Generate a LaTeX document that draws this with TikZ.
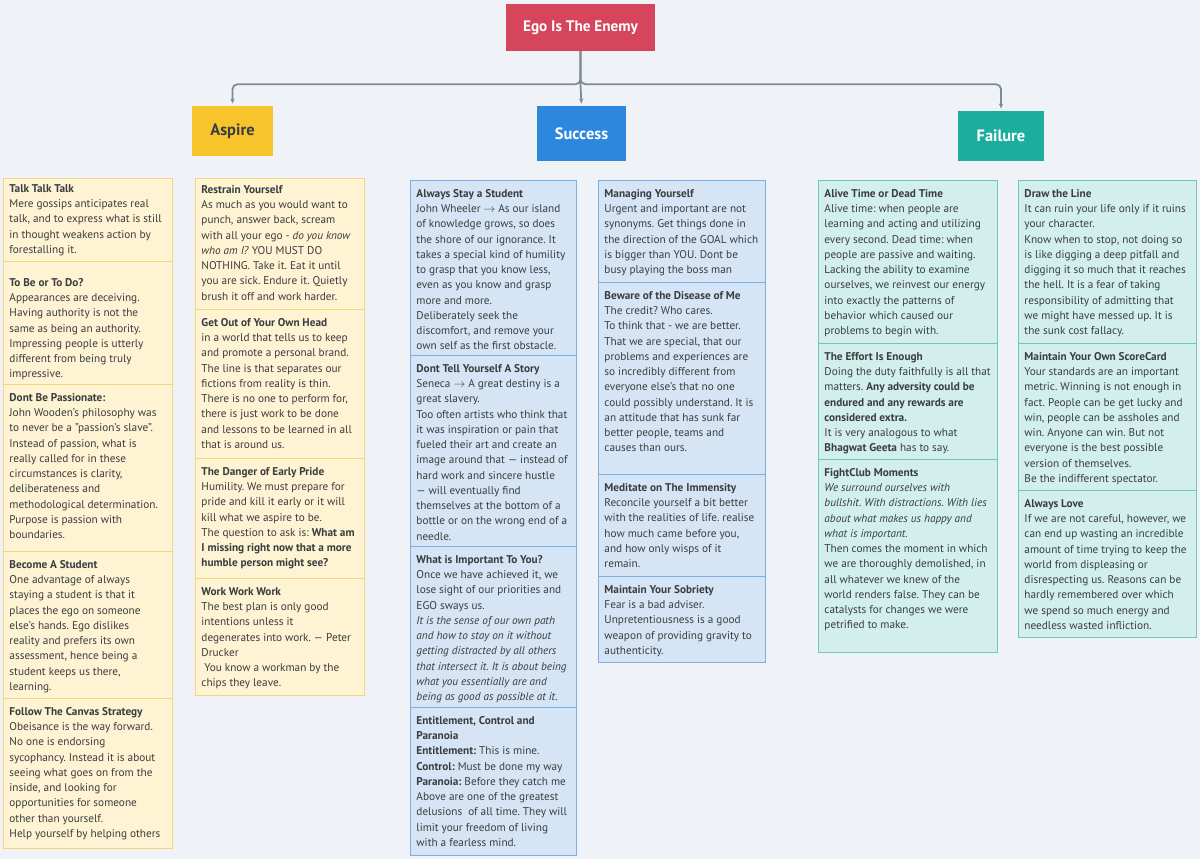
\documentclass[tikz,border=0pt]{standalone}
\usepackage{fontspec}
\setmainfont{PT Sans}
\usetikzlibrary{arrows.meta}
\frenchspacing

\definecolor{canvas}{HTML}{EFF3F7}
\definecolor{ink}{HTML}{3A3D40}
\definecolor{wire}{HTML}{7D8B98}
\definecolor{egored}{HTML}{D5455B}
\definecolor{aspireyel}{HTML}{F8C42B}
\definecolor{successblu}{HTML}{2D87DC}
\definecolor{failteal}{HTML}{1BAE9E}
\definecolor{yelfill}{HTML}{FEF3D2}
\definecolor{yeledge}{HTML}{F5D67A}
\definecolor{blufill}{HTML}{D5E5F5}
\definecolor{bluedge}{HTML}{7CB0E2}
\definecolor{tealfill}{HTML}{D2EFEC}
\definecolor{tealedge}{HTML}{6EC8BC}

% one pixel of the 1200 x 859 sheet
\newlength\px
\setlength\px{0.03cm}
\newcommand\toarrow{\ensuremath{\rightarrow}}

% \card[first baseline]{name}{style}{x}{y}{width}{height}{text}
\newcommand\card[8][17]{%
  \node[#3] (#2) at (#4,#5) {\parbox[t][#7\px][t]{#6\px}{%
      \frenchspacing\leftskip=6\px \rightskip=-30pt plus 1fil \parindent=0pt
      \rule{0pt}{#1\px}#8}};}

\begin{document}
\begin{tikzpicture}[x=1\px, y=-1\px,
    head/.style={font=\fontsize{14}{16}\selectfont\bfseries, inner sep=0pt},
    link/.style={draw=wire, line width=1.5pt, -{Stealth[length=1.5mm, width=1.3mm]}, shorten >=2pt},
    card/.style={anchor=north west, inner sep=0pt, line width=0.8pt, text=ink,
      font=\fontsize{9.6}{13}\selectfont},
    yelcard/.style={card, draw=yeledge, fill=yelfill},
    blucard/.style={card, draw=bluedge, fill=blufill},
    tealcard/.style={card, draw=tealedge, fill=tealfill}]

  % Background
  \fill[canvas] (0,0) rectangle (1200,859);

  % Root and branches
  \node[head, font=\fontsize{13}{15}\selectfont\bfseries, fill=egored, text=white, minimum width=149\px, minimum height=47\px] (ego) at (580.5,27.5) {Ego Is The Enemy};
  \node[head, fill=aspireyel, text=ink, minimum width=81\px, minimum height=50\px] (aspire) at (232.5,131) {Aspire};
  \node[head, fill=successblu, text=white, minimum width=89\px, minimum height=55\px] (success) at (581.5,133.5) {Success};
  \node[head, fill=failteal, text=white, minimum width=86\px, minimum height=50\px] (failure) at (1001,136) {Failure};

  \draw[link] (ego.south) -- ++(0,33) coordinate (hub) -- (success.north);
  \draw[link, rounded corners=1.5mm] (ego.south) -- (hub) -| (aspire.north);
  \draw[link, rounded corners=1.5mm] (ego.south) -- (hub) -| (failure.north);

  % Aspire, first column
  \card[14]{talk}{yelcard}{3}{178}{169}{83}{\textbf{Talk Talk Talk}\\
    Mere gossips anticipates real\\
    talk, and to express what is still\\
    in thought weakens action by\\
    forestalling it.}
  \card[25]{tobe}{yelcard}{3}{261}{169}{123}{\textbf{To Be or To Do?}\\
    Appearances are deceiving.\\
    Having authority is not the\\
    same as being an authority.\\
    Impressing people is utterly\\
    different from being truly\\
    impressive.}
  \card{passion}{yelcard}{3}{384}{169}{167}{\textbf{Dont Be Passionate:}\\
    John Wooden's philosophy was\\
    to never be a "passion's slave".\\
    Instead of passion, what is\\
    really called for in these\\
    circumstances is clarity,\\
    deliberateness and\\
    methodological determination.\\
    Purpose is passion with\\
    boundaries.}
  \card{student}{yelcard}{3}{551}{169}{147}{\textbf{Become A Student}\\
    One advantage of always\\
    staying a student is that it\\
    places the ego on someone\\
    else's hands. Ego dislikes\\
    reality and prefers its own\\
    assessment, hence being a\\
    student keeps us there,\\
    learning.}
  \card{canvasway}{yelcard}{3}{698}{169}{150}{\textbf{Follow The Canvas Strategy}\\
    Obeisance is the way forward.\\
    No one is endorsing\\
    sycophancy. Instead it is about\\
    seeing what goes on from the\\
    inside, and looking for\\
    opportunities for someone\\
    other than yourself.\\
    Help yourself by helping others}

  % Aspire, second column
  \card[15]{restrain}{yelcard}{195}{178}{169}{131}{\textbf{Restrain Yourself}\\
    As much as you would want to\\
    punch, answer back, scream\\
    with all your ego - \textit{do you know}\\
    \textit{who am I?} YOU MUST DO\\
    NOTHING. Take it. Eat it until\\
    you are sick. Endure it. Quietly\\
    brush it off and work harder.}
  \card{ownhead}{yelcard}{195}{309}{169}{149}{\textbf{Get Out of Your Own Head}\\
    in a world that tells us to keep\\
    and promote a personal brand.\\
    The line is that separates our\\
    fictions from reality is thin.\\
    There is no one to perform for,\\
    there is just work to be done\\
    and lessons to be learned in all\\
    that is around us.}
  \card{pride}{yelcard}{195}{458}{169}{120}{\textbf{The Danger of Early Pride}\\
    Humility. We must prepare for\\
    pride and kill it early or it will\\
    kill what we aspire to be.\\
    The question to ask is: \textbf{What am}\\
    \textbf{I missing right now that a more}\\
    \textbf{humble person might see?}}
  \card{work}{yelcard}{195}{578}{169}{117}{\textbf{Work Work Work}\\
    The best plan is only good\\
    intentions unless it\\
    degenerates into work. --- Peter\\
    Drucker\\
    \hspace*{3\px}You know a workman by the\\
    chips they leave.}

  % Success, first column
  \card{stay}{blucard}{410}{180}{166}{175}{\textbf{Always Stay a Student}\\
    John Wheeler \toarrow{} As our island\\
    of knowledge grows, so does\\
    the shore of our ignorance. It\\
    takes a special kind of humility\\
    to grasp that you know less,\\
    even as you know and grasp\\
    more and more.\\
    Deliberately seek the\\
    discomfort, and remove your\\
    own self as the first obstacle.}
  \card{story}{blucard}{410}{355}{166}{191}{\textbf{Dont Tell Yourself A Story}\\
    Seneca \toarrow{} A great destiny is a\\
    great slavery.\\
    Too often artists who think that\\
    it was inspiration or pain that\\
    fueled their art and create an\\
    image around that --- instead of\\
    hard work and sincere hustle\\
    --- will eventually find\\
    themselves at the bottom of a\\
    bottle or on the wrong end of a\\
    needle.}
  \card{important}{blucard}{410}{546}{166}{161}{\textbf{What is Important To You?}\\
    Once we have achieved it, we\\
    lose sight of our priorities and\\
    EGO sways us.\\
    \textit{It is the sense of our own path}\\
    \textit{and how to stay on it without}\\
    \textit{getting distracted by all others}\\
    \textit{that intersect it. It is about being}\\
    \textit{what you essentially are and}\\
    \textit{being as good as possible at it.}}
  \card{entitle}{blucard}{410}{707}{166}{148}{\textbf{Entitlement, Control and}\\
    \textbf{Paranoia}\\
    \textbf{Entitlement:} This is mine.\\
    \textbf{Control:} Must be done my way\\
    \textbf{Paranoia:} Before they catch me\\
    Above are one of the greatest\\
    delusions\ \ of all time. They will\\
    limit your freedom of living\\
    with a fearless mind.}

  % Success, second column
  \card{managing}{blucard}{598}{180}{167}{102}{\textbf{Managing Yourself}\\
    Urgent and important are not\\
    synonyms. Get things done in\\
    the direction of the GOAL which\\
    is bigger than YOU. Dont be\\
    busy playing the boss man}
  \card{diseaseme}{blucard}{598}{282}{167}{192}{\textbf{Beware of the Disease of Me}\\
    The credit? Who cares.\\
    To think that - we are better.\\
    That we are special, that our\\
    problems and experiences are\\
    so incredibly different from\\
    everyone else's that no one\\
    could possibly understand. It is\\
    an attitude that has sunk far\\
    better people, teams and\\
    causes than ours.}
  \card{immensity}{blucard}{598}{474}{167}{102}{\textbf{Meditate on The Immensity}\\
    Reconcile yourself a bit better\\
    with the realities of life. realise\\
    how much came before you,\\
    and how only wisps of it\\
    remain.}
  \card{sobriety}{blucard}{598}{576}{167}{86}{\textbf{Maintain Your Sobriety}\\
    Fear is a bad adviser.\\
    Unpretentiousness is a good\\
    weapon of providing gravity to\\
    authenticity.}

  % Failure, first column
  \card{alive}{tealcard}{818}{180}{179}{163}{\textbf{Alive Time or Dead Time}\\
    Alive time: when people are\\
    learning and acting and utilizing\\
    every second. Dead time: when\\
    people are passive and waiting.\\
    Lacking the ability to examine\\
    ourselves, we reinvest our energy\\
    into exactly the patterns of\\
    behavior which caused our\\
    problems to begin with.}
  \card{effort}{tealcard}{818}{343}{179}{116}{\textbf{The Effort Is Enough}\\
    Doing the duty faithfully is all that\\
    matters. \textbf{Any adversity could be}\\
    \textbf{endured and any rewards are}\\
    \textbf{considered extra.}\\
    It is very analogous to what\\
    \textbf{Bhagwat Geeta} has to say.}
  \card{fightclub}{tealcard}{818}{459}{179}{193}{\textbf{FightClub Moments}\\
    \textit{We surround ourselves with}\\
    \textit{bullshit. With distractions. With lies}\\
    \textit{about what makes us happy and}\\
    \textit{what is important.}\\
    Then comes the moment in which\\
    we are thoroughly demolished, in\\
    all whatever we knew of the\\
    world renders false. They can be\\
    catalysts for changes we were\\
    petrified to make.}

  % Failure, second column
  \card{drawline}{tealcard}{1018}{180}{178}{163}{\textbf{Draw the Line}\\
    It can ruin your life only if it ruins\\
    your character.\\
    Know when to stop, not doing so\\
    is like digging a deep pitfall and\\
    digging it so much that it reaches\\
    the hell. It is a fear of taking\\
    responsibility of admitting that\\
    we might have messed up. It is\\
    the sunk cost fallacy.}
  \card{scorecard}{tealcard}{1018}{343}{178}{147}{\textbf{Maintain Your Own ScoreCard}\\
    Your standards are an important\\
    metric. Winning is not enough in\\
    fact. People can be get lucky and\\
    win, people can be assholes and\\
    win. Anyone can win. But not\\
    everyone is the best possible\\
    version of themselves.\\
    Be the indifferent spectator.}
  \card{love}{tealcard}{1018}{490}{178}{147}{\textbf{Always Love}\\
    If we are not careful, however, we\\
    can end up wasting an incredible\\
    amount of time trying to keep the\\
    world from displeasing or\\
    disrespecting us. Reasons can be\\
    hardly remembered over which\\
    we spend so much energy and\\
    needless wasted infliction.}
\end{tikzpicture}
\end{document}
